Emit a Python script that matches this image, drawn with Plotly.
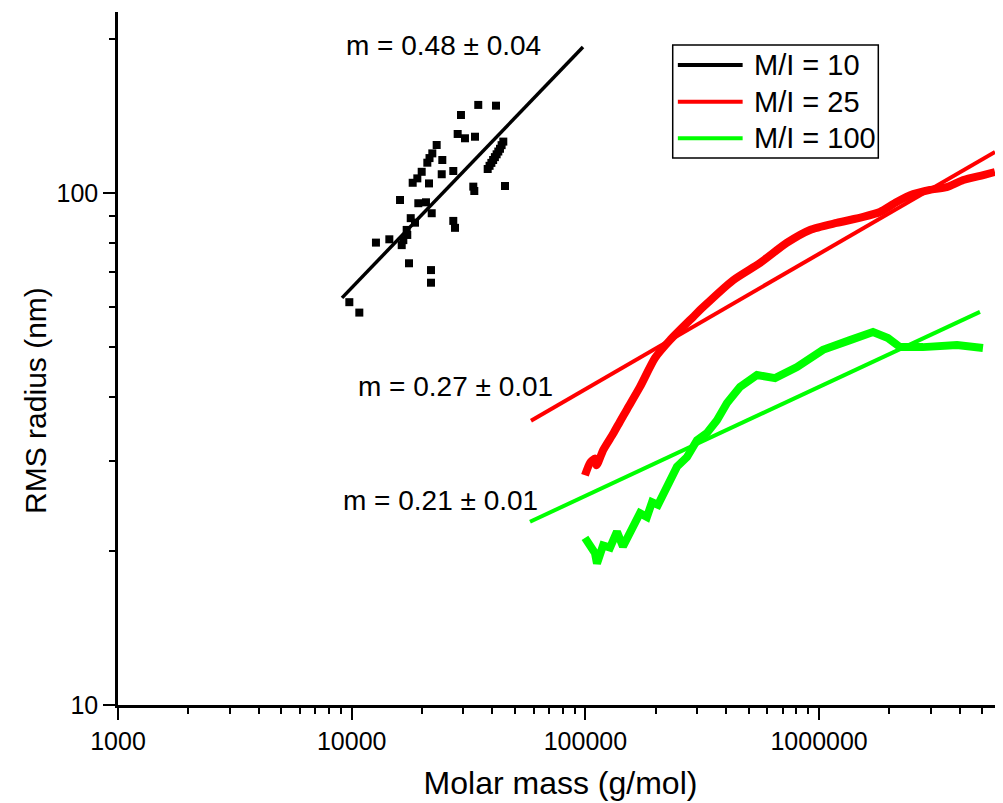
import plotly.graph_objects as go

# M/I = 10 : scattered data points
mi10_x = [34800, 41450, 29350, 28410, 30530, 33700, 23100, 22130, 21530, 21070,
          24420, 27210, 24280, 19930, 19090, 18240, 21420, 16100, 19280, 20790,
          22000, 17890, 18660, 17190, 17290, 16630, 16370, 14490, 12700, 17590,
          21840, 21840, 27210, 27670, 33140, 33470, 45290, 9770, 10780, 38190,
          38900, 39600, 40300, 41000, 41700, 42400, 43100, 43800, 44540]
mi10_y = [148.6, 148.1, 142.0, 130.4, 127.9, 128.8, 124.1, 119.5, 117.0, 114.6,
          116.0, 110.4, 108.8, 110.0, 106.8, 104.7, 104.4, 96.9, 95.5, 95.9,
          91.3, 89.3, 87.5, 84.7, 82.8, 80.9, 79.1, 81.2, 80.0, 72.9,
          70.7, 66.8, 88.2, 85.5, 102.9, 100.9, 103.2, 61.2, 58.4, 111.4,
          113.0, 114.5, 116.0, 117.5, 119.0, 120.5, 122.0, 124.0, 126.0]

# M/I = 25 : continuous curve
mi25_x = [99600, 104600, 109900, 111800, 119300, 131600, 140700, 150200, 171200,
          198500, 230100, 289500, 319500, 429500, 558600, 726600, 914300, 1189000,
          1546000, 1822000, 2148000, 2531000, 2982000, 3516000, 4140000, 5043000,
          5657000]
mi25_y = [28.1, 29.7, 30.3, 29.4, 31.5, 33.9, 35.8, 37.7, 41.8,
          47.6, 51.6, 57.3, 59.9, 67.6, 73.0, 79.9, 84.7, 87.4,
          89.8, 91.8, 96.0, 99.5, 101.4, 102.7, 106.0, 108.4,
          109.9]

# M/I = 100 : continuous curve
mi100_x = [99600, 109900, 112100, 119000, 127500, 136500, 144800, 159800, 171200,
           183400, 192800, 204500, 223500, 246600, 272200, 300300, 331400, 365700,
           403600, 458700, 542500, 647800, 804300, 1039000, 1356000, 1701000,
           1971000, 2220000, 2783000, 3892000, 5027000]
mi100_y = [21.2, 19.8, 18.9, 20.5, 20.3, 21.8, 20.4, 22.3, 23.7,
           23.3, 24.9, 24.6, 26.9, 29.2, 30.5, 32.9, 34.0, 36.0,
           38.9, 41.8, 44.1, 43.5, 45.7, 49.4, 51.6, 53.5,
           52.1, 50.0, 50.0, 50.5, 49.8]

# Power-law fit lines (end points)
fit10_x = [9090, 97660]
fit10_y = [62.4, 192.8]
fit25_x = [58500, 5660000]
fit25_y = [35.9, 120.3]
fit100_x = [57940, 4880000]
fit100_y = [22.8, 58.6]

series_names = ["M/I = 10", "M/I = 25", "M/I = 100"]
series_colors = ["#000000", "#FF0000", "#00FF00"]
slope_labels = ["m = 0.48 ± 0.04", "m = 0.27 ± 0.01", "m = 0.21 ± 0.01"]

FONT = "Liberation Sans, Arial, sans-serif"

fig = go.Figure()

fig.add_trace(go.Scatter(x=mi10_x, y=mi10_y, mode="markers", name=series_names[0],
                         marker=dict(symbol="square", size=8, color=series_colors[0]),
                         showlegend=False))
fig.add_trace(go.Scatter(x=fit10_x, y=fit10_y, mode="lines", showlegend=False,
                         line=dict(color=series_colors[0], width=3.5)))

fig.add_trace(go.Scatter(x=mi25_x, y=mi25_y, mode="lines", name=series_names[1],
                         line=dict(color=series_colors[1], width=8, shape="spline",
                                   smoothing=0.6),
                         showlegend=False))
fig.add_trace(go.Scatter(x=fit25_x, y=fit25_y, mode="lines", showlegend=False,
                         line=dict(color=series_colors[1], width=4)))

fig.add_trace(go.Scatter(x=mi100_x, y=mi100_y, mode="lines", name=series_names[2],
                         line=dict(color=series_colors[2], width=8), showlegend=False))
fig.add_trace(go.Scatter(x=fit100_x, y=fit100_y, mode="lines", showlegend=False,
                         line=dict(color=series_colors[2], width=4)))

# Slope annotations (positions in log10 data units)
ann_pos = [(4.391, 2.289), (4.446, 1.623), (4.382, 1.400)]
for (ax, ay), txt in zip(ann_pos, slope_labels):
    fig.add_annotation(x=ax, y=ay, xref="x", yref="y", text=txt, showarrow=False,
                       font=dict(family=FONT, size=28, color="black"),
                       xanchor="center", yanchor="middle")

# Manual legend (box, sample lines, labels) in paper coordinates
fig.add_shape(type="rect", xref="paper", yref="paper", x0=0.6268, x1=0.8591,
              y0=0.7893, y1=0.9524, line=dict(color="black", width=1.5),
              fillcolor="white")
leg_rows = [0.9235, 0.8706, 0.8178]
for yrow, name, col in zip(leg_rows, series_names, series_colors):
    fig.add_shape(type="line", xref="paper", yref="paper", x0=0.6326, x1=0.7058,
                  y0=yrow, y1=yrow, line=dict(color=col, width=4))
    fig.add_annotation(x=0.716, y=yrow, xref="paper", yref="paper", text=name,
                       showarrow=False, xanchor="left", yanchor="middle",
                       font=dict(family=FONT, size=29, color="black"))

# Y-axis title placed as rotated text (sits below the axis centre in the original)
fig.add_annotation(x=-0.094, y=0.44, xref="paper", yref="paper",
                   text="RMS radius (nm)", textangle=-90, showarrow=False,
                   xanchor="center", yanchor="middle",
                   font=dict(family=FONT, size=30, color="black"))

x_minor = [m * 10 ** e for e in range(3, 7) for m in range(2, 10)]
y_minor = [m * 10 ** e for e in range(1, 3) for m in range(2, 10)]

fig.update_xaxes(type="log", range=[3, 6.787],
                 tickvals=[1000, 10000, 100000, 1000000],
                 ticktext=["1000", "10000", "100000", "1000000"],
                 ticks="outside", ticklen=12, tickwidth=2, tickcolor="black",
                 minor=dict(tickvals=x_minor, ticks="outside", ticklen=6,
                            tickwidth=2, tickcolor="black"),
                 showline=True, linecolor="black", linewidth=2.5,
                 showgrid=False, zeroline=False,
                 tickfont=dict(family=FONT, size=25, color="black"),
                 title=dict(text="Molar mass (g/mol)", standoff=18,
                            font=dict(family=FONT, size=32, color="black")))
fig.update_yaxes(type="log", range=[1, 2.3535],
                 tickvals=[10, 100], ticktext=["10", "100"],
                 ticks="outside", ticklen=12, tickwidth=2, tickcolor="black",
                 minor=dict(tickvals=y_minor, ticks="outside", ticklen=6,
                            tickwidth=2, tickcolor="black"),
                 showline=True, linecolor="black", linewidth=2.5,
                 showgrid=False, zeroline=False,
                 tickfont=dict(family=FONT, size=25, color="black"))

# page body adds an 8 px offset, so the figure is sized/margined to compensate
fig.update_layout(width=995, height=795,
                  margin=dict(l=110, r=0, t=4, b=98),
                  plot_bgcolor="white", paper_bgcolor="white",
                  showlegend=False)

fig.write_html("out.html")
